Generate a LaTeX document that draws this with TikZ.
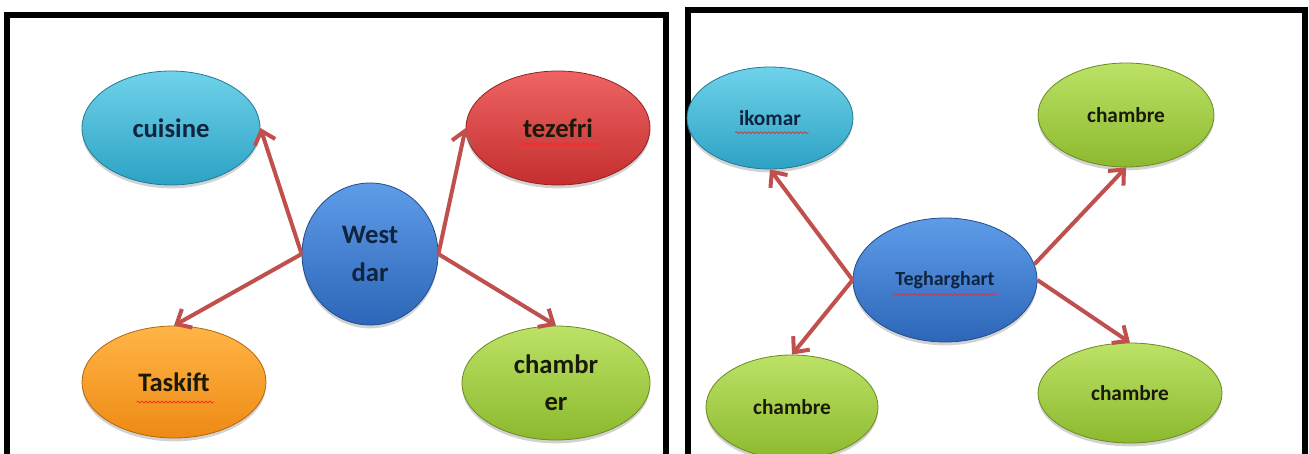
\documentclass[tikz,border=0pt]{standalone}
\usepackage{fontspec}
\setmainfont{Carlito}
\usetikzlibrary{shapes.geometric,arrows.meta,shadows,decorations.pathmorphing}
\definecolor{arrcol}{HTML}{C0504D}
\definecolor{cyanT}{HTML}{6FD2EA}\definecolor{cyanB}{HTML}{2DA2C4}
\definecolor{redT}{HTML}{EE6464}\definecolor{redB}{HTML}{C42E2E}
\definecolor{blueT}{HTML}{5E9CE8}\definecolor{blueB}{HTML}{2D66B8}
\definecolor{orgT}{HTML}{FFB547}\definecolor{orgB}{HTML}{EE8A14}
\definecolor{grnT}{HTML}{BCE266}\definecolor{grnB}{HTML}{8CB92E}
\definecolor{txtnavy}{HTML}{10233F}
\definecolor{txtdark}{HTML}{1A1A0A}
\begin{document}
\begin{tikzpicture}[x=0.75pt,y=-0.75pt,
  bub/.style n args={4}{ellipse, inner sep=0pt,
    minimum width=0.75pt*#1, minimum height=0.75pt*#2,
    top color=#3, bottom color=#4, draw=#4!75!black, line width=0.6pt,
    drop shadow={shadow xshift=0pt, shadow yshift=-2.5pt, opacity=0.35},
    font=\bfseries, align=center},
  bigtxt/.style={font=\bfseries\fontsize{20}{28}\selectfont},
  smalltxt/.style={font=\bfseries\fontsize{16}{20}\selectfont},
  link/.style={draw=arrcol, line width=3pt,
    -{Straight Barb[length=9pt,width=16pt,line width=3pt]}},
  panel/.style={draw=black, line width=3.8pt},
  squig/.style={draw=red!85!white, line width=0.6pt,
    decorate, decoration={snake, segment length=3pt, amplitude=0.7pt}}]
\useasboundingbox (0,0) rectangle (1309,453);
\clip (0,0) rectangle (1309,453);
\fill[white] (0,0) rectangle (1309,453);

% panels
\draw[panel] (7,470) -- (7,15) -- (666,15) -- (666,470);
\draw[panel] (688,470) -- (688,10) -- (1305,10) -- (1305,470);

% left panel nodes
\node[bub={178}{114}{cyanT}{cyanB}, bigtxt, text=txtnavy] (cui) at (171,128) {cuisine};
\node[bub={184}{114}{redT}{redB}, bigtxt, text=txtdark] (tez) at (558,128) {tezefri};
\node[bub={136}{142}{blueT}{blueB}, bigtxt, text=txtnavy] (wd) at (370,254) {West\\dar};
\node[bub={184}{112}{orgT}{orgB}, bigtxt, text=txtdark] (tas) at (174,382) {Taskift};
\node[bub={188}{114}{grnT}{grnB}, bigtxt, text=txtdark] (chr) at (556,383) {chambr\\er};

\draw[squig] ([xshift=-30pt,yshift=-12pt]tez.center) -- ([xshift=31pt,yshift=-12pt]tez.center);
\draw[squig] ([xshift=-28pt,yshift=-15pt]tas.center) -- ([xshift=30pt,yshift=-15pt]tas.center);

\draw[link] (wd.west) -- (cui.east);
\draw[link] (wd.west) -- (tas.north);
\draw[link] (wd.east) -- (tez.west);
\draw[link] (wd.east) -- (chr.north);

% right panel nodes
\node[bub={166}{102}{cyanT}{cyanB}, smalltxt, text=txtnavy] (iko) at (770,118) {ikomar};
\node[bub={176}{104}{grnT}{grnB}, smalltxt, text=txtdark] (chtr) at (1126,115) {chambre};
\node[bub={184}{124}{blueT}{blueB}, font=\bfseries\fontsize{15}{18}\selectfont, text=txtnavy] (teg) at (945,280) {Tegharghart};
\node[bub={172}{104}{grnT}{grnB}, smalltxt, text=txtdark] (chbl) at (792,407) {chambre};
\node[bub={184}{100}{grnT}{grnB}, smalltxt, text=txtdark] (chbr) at (1130,393) {chambre};

\draw[squig] ([xshift=-26pt,yshift=-11pt]iko.center) -- ([xshift=29pt,yshift=-11pt]iko.center);
\draw[squig] ([xshift=-39pt,yshift=-11pt]teg.center) -- ([xshift=39pt,yshift=-11pt]teg.center);

\draw[link] (teg.west) -- (iko.south);
\draw[link] (teg.west) -- (chbl.north);
\draw[link] (teg.10) -- (chtr.south);
\draw[link] (teg.east) -- (chbr.north);
\end{tikzpicture}
\end{document}
